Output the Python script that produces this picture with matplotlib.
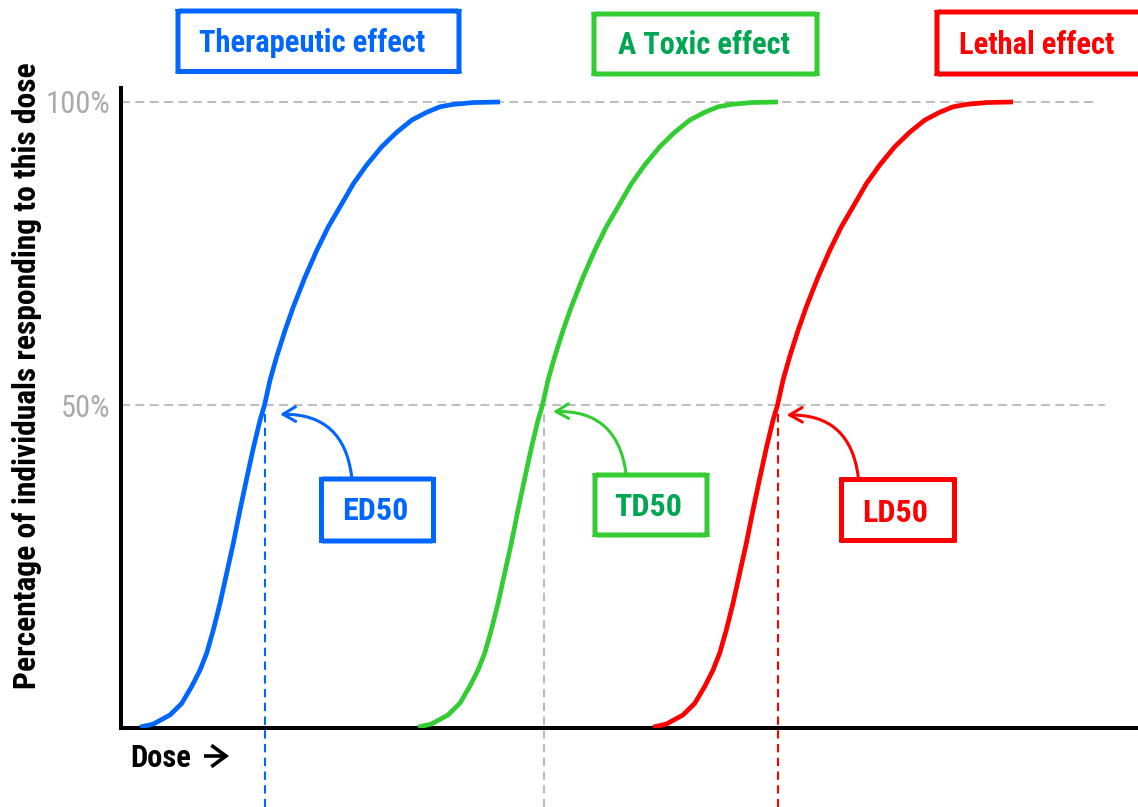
import matplotlib
matplotlib.use("Agg")
import matplotlib.pyplot as plt
import matplotlib.transforms as mtransforms
from matplotlib import font_manager
from matplotlib.patches import FancyBboxPatch, FancyArrowPatch

# Response level (% of individuals) and dose
response = [-3.1, -2.6, -1.1, 0.8, 3.6, 6.3, 9.1, 12.9, 17.3, 22.3, 27.2, 32.7,
            37.9, 42.9, 47.5, 50.0, 54.1, 58.0, 62.3, 66.2, 71.1, 75.5, 79.4,
            82.7, 86.5, 89.6, 92.6, 95.0, 97.0, 98.3, 99.2, 99.6, 99.9, 100.0]
dose_therapeutic = [1.9, 3.23, 4.9, 6.07, 7.07, 7.9, 8.57, 9.23, 9.9, 10.57, 11.23,
                    11.9, 12.57, 13.23, 13.9, 14.35, 14.9, 15.57, 16.4, 17.23,
                    18.4, 19.57, 20.73, 21.9, 23.23, 24.57, 26.07, 27.57, 29.07,
                    30.57, 31.9, 33.23, 35.23, 37.9]
dose_toxic = [29.7, 31.03, 32.7, 33.87, 34.87, 35.7, 36.37, 37.03, 37.7, 38.37,
              39.03, 39.7, 40.37, 41.03, 41.7, 42.15, 42.7, 43.37, 44.2, 45.03,
              46.2, 47.37, 48.53, 49.7, 51.03, 52.37, 53.87, 55.37, 56.87, 58.37,
              59.7, 61.03, 63.03, 65.7]
dose_lethal = [53.2, 54.53, 56.2, 57.37, 58.37, 59.2, 59.87, 60.53, 61.2, 61.87,
               62.53, 63.2, 63.87, 64.53, 65.2, 65.65, 66.2, 66.87, 67.7, 68.53,
               69.7, 70.87, 72.03, 73.2, 74.53, 75.87, 77.37, 78.87, 80.37, 81.87,
               83.2, 84.53, 86.53, 89.2]

effects = ["Therapeutic effect", "A Toxic effect", "Lethal effect"]
d50_names = ["ED50", "TD50", "LD50"]
d50_values = [14.4, 42.3, 65.7]
tick_values = [50, 100]
tick_labels = ["50%", "100%"]

BLUE, GREEN, RED = "#0066FF", "#33CC33", "#FF0000"
line_colors = [BLUE, GREEN, RED]
text_colors = [BLUE, "#00A651", RED]
vline_colors = [BLUE, "#BBBBBB", RED]
GRID = "#BFBFBF"

avail = {f.name for f in font_manager.fontManager.ttflist}
narrow = next((f for f in ["Liberation Sans Narrow", "Arial Narrow",
                           "Roboto Condensed", "Liberation Sans"] if f in avail),
              "DejaVu Sans")
plt.rcParams["font.family"] = [narrow, "DejaVu Sans"]

W, H = 1138, 807
fig = plt.figure(figsize=(W / 100, H / 100), dpi=100)
# pixel coordinates (origin top-left) for the annotation layout
pix = mtransforms.Affine2D().scale(1 / W, -1 / H).translate(0, 1) + fig.transFigure

ax = fig.add_axes([121 / W, (H - 727.7) / H, (W - 121) / W, (727.7 - 88) / H])
ax.set_xlim(0, 101.7)
ax.set_ylim(-3.2, 102.3)
for s in ["top", "right"]:
    ax.spines[s].set_visible(False)
for s in ["left", "bottom"]:
    ax.spines[s].set_linewidth(2.9)
    ax.spines[s].set_color("black")
    ax.spines[s].set_zorder(3)
ax.set_xticks([])
ax.set_yticks(tick_values)
ax.set_yticklabels(tick_labels, fontsize=22, color="#AAAAAA")
ax.tick_params(axis="y", length=0, pad=8)

# reference dashed lines
ax.plot([0, 97.6], [100, 100], color=GRID, lw=1.5, ls=(0, (4.3, 2.6)), zorder=1)
ax.plot([0, 98.4], [50, 50], color=GRID, lw=1.5, ls=(0, (4.3, 2.6)), zorder=1)

for dose, c in zip([dose_therapeutic, dose_toxic, dose_lethal], line_colors):
    ax.plot(dose, response, color=c, lw=3.4, solid_capstyle="butt",
            solid_joinstyle="round", zorder=4)

for d50, c in zip(d50_values, vline_colors):
    ax.plot([d50, d50], [48.6, -16.5], color=c, lw=1.5, ls=(0, (4.0, 2.6)),
            clip_on=False, zorder=5)

# top effect boxes
top_boxes = [(178, 11, 281, 60.5), (594, 14, 223, 60), (937, 12, 215, 62)]
top_text = [(312.5, 52), (704.5, 54), (1036.5, 54)]
for (x, y, w, h), (tx, ty), lab, lc, tc in zip(top_boxes, top_text, effects,
                                               line_colors, text_colors):
    fig.patches.append(FancyBboxPatch((x, y + h), w, -h, boxstyle="round,pad=0,rounding_size=2",
                                      transform=pix, fill=False, ec=lc, lw=3.6))
    fig.text(tx, ty, lab, transform=pix, ha="center", va="baseline",
             fontsize=22, fontweight="bold", color=tc)

# D50 boxes with curved arrows
d50_boxes = [(321.5, 479, 112, 62), (595, 475, 112, 60), (841.5, 479.5, 113, 61)]
d50_text = [(375.5, 520), (648, 516), (895, 521.5)]
arrows = [((351.7, 477), (280, 414.3)), ((626, 473), (553, 411.7)),
          ((858.3, 477.5), (786.7, 415))]
for (x, y, w, h), (tx, ty), (a0, a1), lab, lc, tc in zip(d50_boxes, d50_text, arrows,
                                                         d50_names, line_colors, text_colors):
    fig.patches.append(FancyBboxPatch((x, y + h), w, -h, boxstyle="round,pad=0,rounding_size=2",
                                      transform=pix, fill=False, ec=lc, lw=3.6))
    fig.text(tx, ty, lab, transform=pix, ha="center", va="baseline",
             fontsize=23, fontweight="bold", color=tc)
    fig.patches.append(FancyArrowPatch(a0, a1, transform=pix,
                                       connectionstyle="arc3,rad=0.45",
                                       arrowstyle="->,head_length=0.6,head_width=0.35",
                                       mutation_scale=15, color=lc, lw=2.2,
                                       shrinkA=0, shrinkB=0))

fig.text(27 / W, 1 - 375.5 / H, "Percentage of individuals responding to this dose",
         rotation=90, ha="center", va="center", fontsize=22.7, fontweight="bold")
fig.text(130 / W, 1 - 767 / H, "Dose", ha="left", va="baseline",
         fontsize=22, fontweight="bold")
fig.patches.append(FancyArrowPatch((204, 756), (229, 756), transform=pix,
                                   arrowstyle="->,head_length=0.75,head_width=0.55",
                                   mutation_scale=14, color="black", lw=2.6,
                                   shrinkA=0, shrinkB=0, capstyle="butt",
                                   joinstyle="miter"))

fig.savefig("out.png", dpi=100)
